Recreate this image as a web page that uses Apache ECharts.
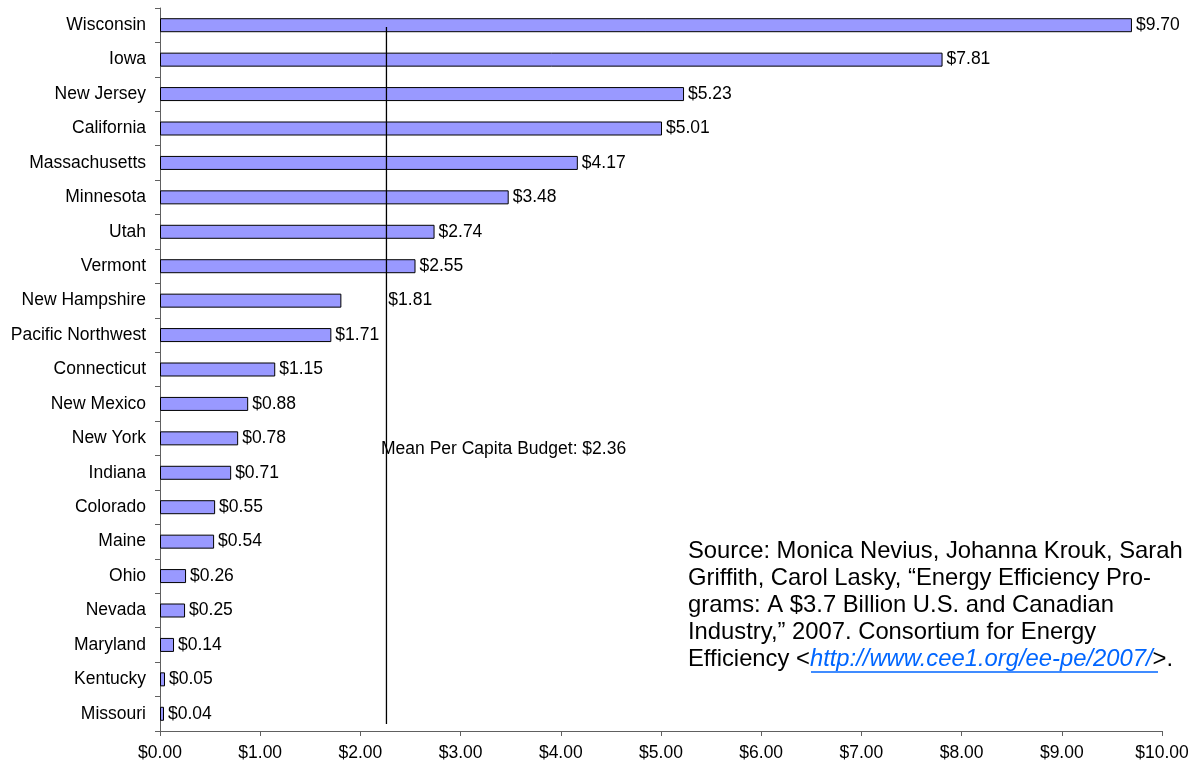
<!DOCTYPE html>
<html>
<head>
<meta charset="utf-8">
<script src="https://cdn.jsdelivr.net/npm/echarts@6/dist/echarts.min.js"></script>
<style>
html,body{margin:0;padding:0;background:#fff;}
#chart{width:1195px;height:766px;}
</style>
</head>
<body>
<div id="chart"></div>
<script>
var categories = ["Wisconsin","Iowa","New Jersey","California","Massachusetts","Minnesota","Utah","Vermont","New Hampshire","Pacific Northwest","Connecticut","New Mexico","New York","Indiana","Colorado","Maine","Ohio","Nevada","Maryland","Kentucky","Missouri"];
var values = [9.70,7.81,5.23,5.01,4.17,3.48,2.74,2.55,1.81,1.71,1.15,0.88,0.78,0.71,0.55,0.54,0.26,0.25,0.14,0.05,0.04];
var xTicks = [0,1,2,3,4,5,6,7,8,9,10];
var meanLinePosition = 2.26;
var meanLineSpan = [0.55, 20.8];
var meanLabel = "Mean Per Capita Budget: $2.36";
var sourceLines = [
  "Source: Monica Nevius, Johanna Krouk, Sarah",
  "Griffith, Carol Lasky, \u201cEnergy Efficiency Pro-",
  "grams: A $3.7 Billion U.S. and Canadian",
  "Industry,\u201d 2007. Consortium for Energy"
];
var sourceLastPrefix = "Efficiency <";
var sourceLink = "http://www.cee1.org/ee-pe/2007/";
var sourceLastSuffix = ">.";

var FONT = "'Liberation Sans', Arial, sans-serif";
var chart = echarts.init(document.getElementById('chart'), null, {renderer:'canvas'});

var seriesData = values.map(function(v, i){
  var item = {value: v};
  if (categories[i] === "New Hampshire") {
    item.label = {offset: [43, 0]};
  }
  return item;
});

var sourceText = sourceLines.join("\n") + "\n" + sourceLastPrefix + "{link|" + sourceLink + "}" + sourceLastSuffix;

var option = {
  animation: false,
  backgroundColor: '#fff',
  grid: {left: 160, right: 33, top: 8, bottom: 35, containLabel: false},
  xAxis: {
    type: 'value',
    position: 'bottom',
    min: xTicks[0],
    max: xTicks[xTicks.length-1],
    interval: 1,
    axisLine: {show: true, onZero: false, lineStyle: {color: '#606060', width: 1}},
    axisTick: {show: true, length: 5, lineStyle: {color: '#606060'}},
    splitLine: {show: false},
    axisLabel: {
      color: '#000', fontFamily: FONT, fontSize: 17.5, margin: 13,
      formatter: function(v){ return '$' + v.toFixed(2); }
    }
  },
  yAxis: [{
    type: 'category',
    data: categories,
    inverse: true,
    axisLine: {show: true, onZero: false, lineStyle: {color: '#606060', width: 1}},
    axisTick: {show: true, length: 5, lineStyle: {color: '#606060'}},
    axisLabel: {color: '#000', fontFamily: FONT, fontSize: 17.5, margin: 14}
  }, {
    type: 'value',
    show: false,
    inverse: true,
    min: 0,
    max: categories.length,
    axisLine: {onZero: false},
    splitLine: {show: false}
  }],
  series: [{
    type: 'bar',
    data: seriesData,
    barWidth: 14,
    yAxisIndex: 0,
    itemStyle: {color: '#9999FF', borderColor: '#000', borderWidth: 1},
    label: {
      show: true, position: 'right', distance: 4,
      color: '#000', fontFamily: FONT, fontSize: 17.5,
      formatter: function(p){ return '$' + p.value.toFixed(2); }
    }
  }, {
    type: 'line',
    yAxisIndex: 1,
    silent: true,
    symbol: 'none',
    z: 5,
    lineStyle: {color: '#000', width: 1.3},
    data: [[meanLinePosition, meanLineSpan[0]], [meanLinePosition, meanLineSpan[1]]]
  }],
  graphic: [
    {
      type: 'text', left: 381, top: 440, z: 10,
      style: {text: meanLabel, fill: '#000', font: '17.5px ' + FONT}
    },
    {
      type: 'text', left: 688, top: 538, z: 10,
      style: {
        text: sourceText,
        fill: '#000',
        fontFamily: FONT,
        fontSize: 23.8,
        lineHeight: 27,
        rich: {
          link: {fill: '#0066FF', fontStyle: 'italic', fontFamily: FONT, fontSize: 23.8, lineHeight: 27}
        }
      }
    },
    {
      type: 'line', z: 10,
      shape: {x1: 811, y1: 672, x2: 1158, y2: 672},
      style: {stroke: '#0066FF', lineWidth: 1.5}
    }
  ]
};
chart.setOption(option);
</script>
</body>
</html>
